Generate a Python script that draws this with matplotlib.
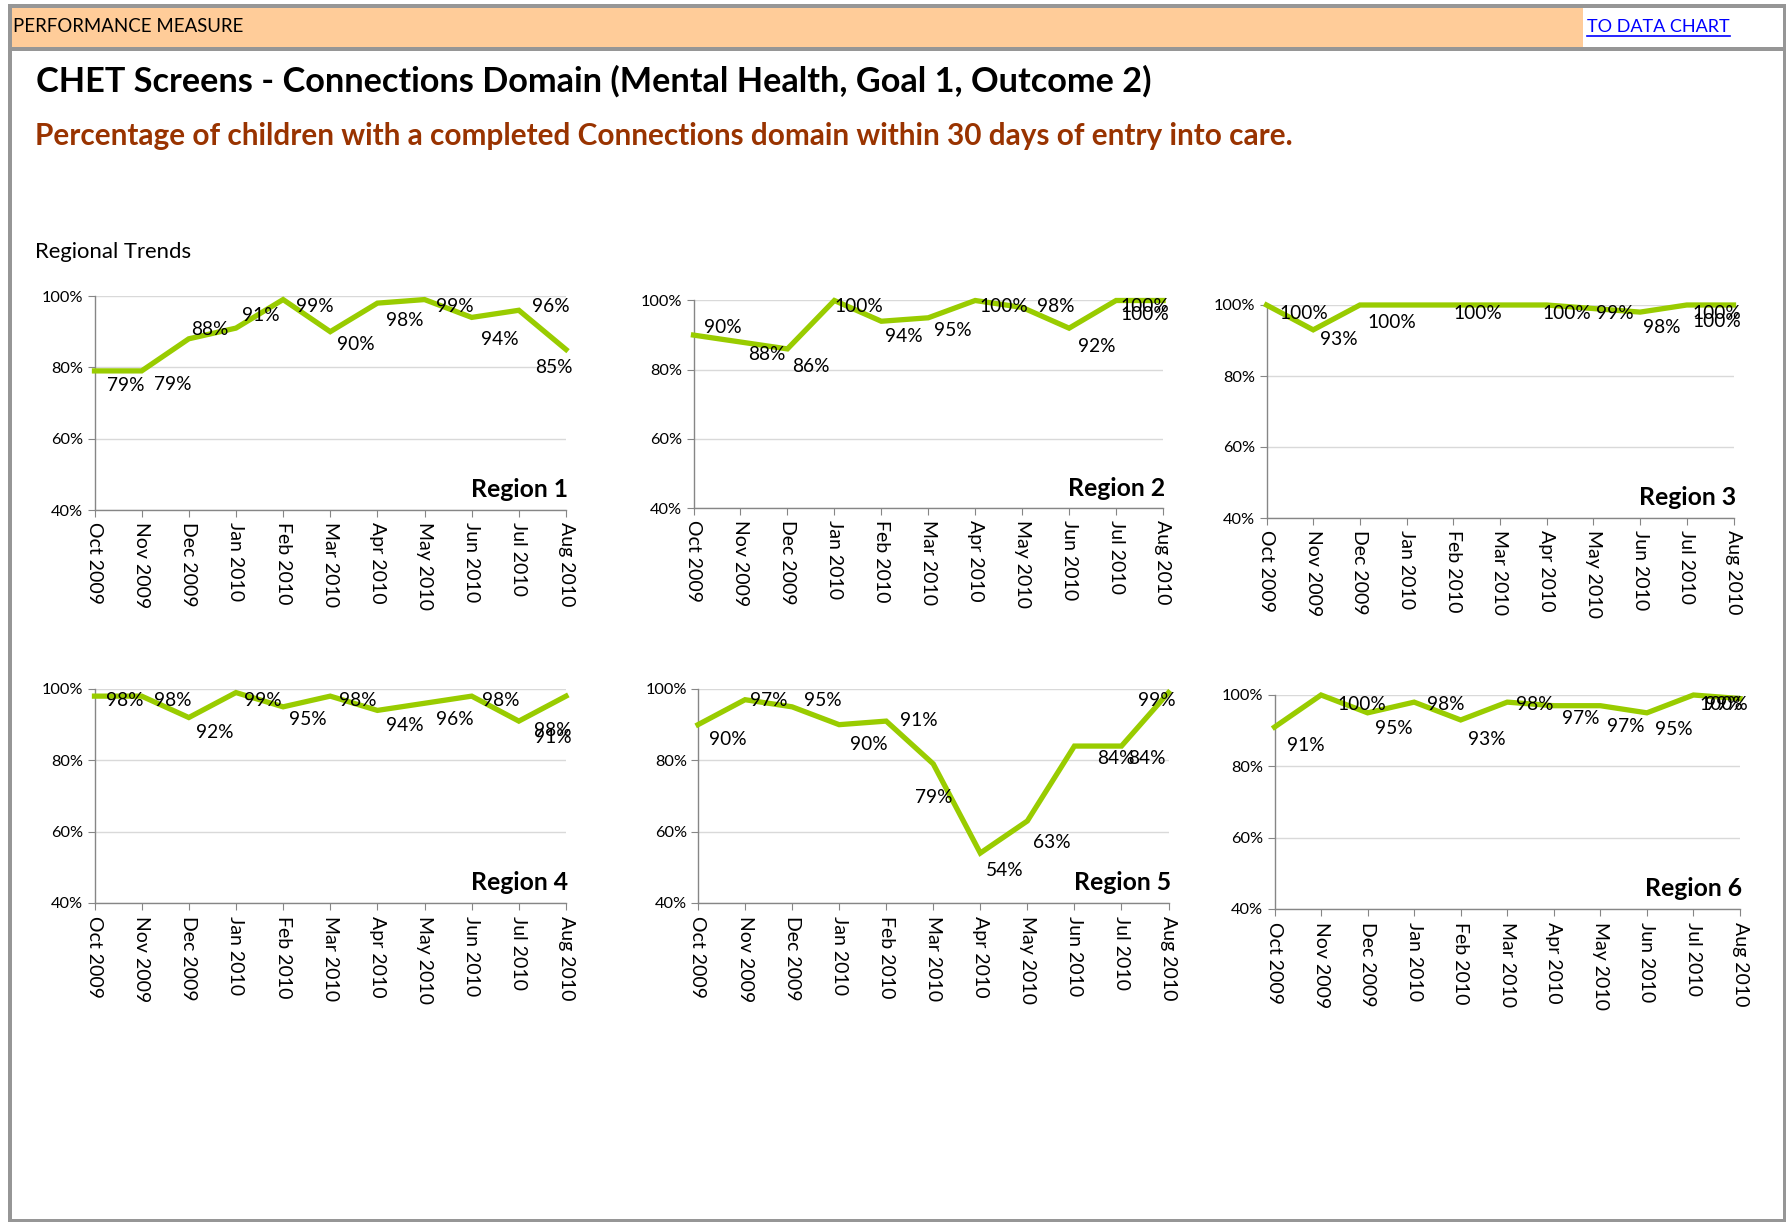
import matplotlib
matplotlib.use("Agg")
import matplotlib.pyplot as plt
from matplotlib.patches import Rectangle
from matplotlib.lines import Line2D

plt.rcParams['font.family'] = ['Lato', 'DejaVu Sans']

# ---------------- data ----------------
months = ["Oct 2009", "Nov 2009", "Dec 2009", "Jan 2010", "Feb 2010", "Mar 2010",
          "Apr 2010", "May 2010", "Jun 2010", "Jul 2010", "Aug 2010"]
region_names = ["Region 1", "Region 2", "Region 3", "Region 4", "Region 5", "Region 6"]

region1 = [79, 79, 88, 91, 99, 90, 98, 99, 94, 96, 85]
region2 = [90, 88, 86, 100, 94, 95, 100, 98, 92, 100, 100]
region3 = [100, 93, 100, 100, 100, 100, 100, 99, 98, 100, 100]
region4 = [98, 98, 92, 99, 95, 98, 94, 96, 98, 91, 98]
region5 = [90, 97, 95, 90, 91, 79, 54, 63, 84, 84, 99]
region6 = [91, 100, 95, 98, 93, 98, 97, 97, 95, 100, 99]
series = [region1, region2, region3, region4, region5, region6]

y_ticks = [40, 60, 80, 100]

# ---------------- label placement (style, offsets from each point) ----------------
label_dx = [
    [0.67, 0.65, 0.45, 0.52, 0.67, 0.54, 0.58, 0.64, 0.59, 0.67, -0.25],
    [0.63, 0.56, 0.51, 0.52, 0.49, 0.52, 0.61, 0.71, 0.58, 0.62, -0.39],
    [0.81, 0.55, 0.69, None, 0.52, None, 0.44, 0.46, 0.46, 0.64, -0.36],
    [0.64, 0.66, 0.54, 0.56, 0.53, 0.59, 0.58, 0.64, 0.62, 0.71, -0.29],
    [0.63, 0.50, 0.65, 0.62, 0.69, 0.00, 0.51, 0.53, 0.88, 0.53, -0.25],
    [0.68, 0.88, 0.56, 0.67, 0.56, 0.59, 0.57, 0.54, 0.58, 0.65, -0.35],
]
label_dy = [
    [-4.2, -3.7, 2.7, 3.6, -2.0, -3.5, -5.0, -2.0, -6.1, 1.0, -5.0],
    [2.1, -3.6, -5.2, -1.8, -4.3, -3.6, -1.8, 0.2, -5.2, -1.6, -4.0],
    [-2.5, -2.8, -4.8, 0, -2.5, 0, -2.5, -1.5, -4.2, -2.5, -4.6],
    [-1.1, -1.1, -4.1, -2.1, -3.6, -1.1, -4.3, -4.6, -1.1, -4.5, -9.5],
    [-4.2, -0.1, 1.9, -5.7, 0.1, -9.3, -4.8, -6.1, -3.6, -3.6, -2.1],
    [-5.1, -2.6, -4.4, -0.6, -5.6, -0.6, -3.6, -5.7, -4.8, -2.6, -1.6],
]

# axes boxes in pixels: left, right, top, bottom
W, H = 1786, 1225
boxes = [
    (94.5, 566, 296, 510),
    (693.5, 1163, 300.5, 508),
    (1266.5, 1733.5, 305, 518),
    (94.5, 566, 689, 903),
    (698, 1168.5, 689, 903),
    (1274.5, 1740, 695, 909),
]

LINE_COLOR = "#99CC00"
GRID_COLOR = "#D9D9D9"
AXIS_COLOR = "#868686"
BORDER = "#969696"

fig = plt.figure(figsize=(W / 100, H / 100), dpi=100)
fig.patch.set_facecolor("white")

def px_rect(x0, y0, x1, y1, **kw):
    fig.patches.append(Rectangle((x0 / W, 1 - y1 / H), (x1 - x0) / W, (y1 - y0) / H,
                                 transform=fig.transFigure, figure=fig, **kw))

# header band and frame
px_rect(11, 7, 1583, 47, facecolor="#FFCC99", edgecolor="none")
px_rect(8, 4, 1786, 7.5, facecolor=BORDER, edgecolor="none")
px_rect(8, 47, 1786, 50.5, facecolor=BORDER, edgecolor="none")
px_rect(8, 4, 11.5, 1222, facecolor=BORDER, edgecolor="none")
px_rect(1782.5, 4, 1786, 1222, facecolor=BORDER, edgecolor="none")
px_rect(8, 1218.5, 1786, 1222, facecolor=BORDER, edgecolor="none")

fig.text(13 / W, 1 - 27 / H, "PERFORMANCE MEASURE", fontsize=13.4, va="center", ha="left", color="black")
fig.text(1587 / W, 1 - 27 / H, "TO DATA CHART", fontsize=13, va="center", ha="left", color="#0000FF")
fig.lines.append(Line2D([1587 / W, 1730 / W], [1 - 35.5 / H, 1 - 35.5 / H], transform=fig.transFigure,
                        color="#0000FF", lw=1.2))

fig.text(36 / W, 1 - 81 / H, "CHET Screens - Connections Domain (Mental Health, Goal 1, Outcome 2)",
         fontsize=24.7, fontweight="bold", va="center", ha="left", color="black")
fig.text(35 / W, 1 - 136 / H,
         "Percentage of children with a completed Connections domain within 30 days of entry into care.",
         fontsize=21.4, fontweight="bold", va="center", ha="left", color="#993300")
fig.text(35 / W, 1 - 252 / H, "Regional Trends", fontsize=15.9, va="center", ha="left", color="black")

x = list(range(len(months)))
for k, (vals, name, box) in enumerate(zip(series, region_names, boxes)):
    l, r, t, b = box
    ax = fig.add_axes([l / W, 1 - b / H, (r - l) / W, (b - t) / H])
    ax.set_facecolor("none")
    ax.plot(x, vals, color=LINE_COLOR, lw=3.8, solid_joinstyle="miter", clip_on=False, zorder=3)
    ax.set_xlim(0, len(months) - 1)
    ax.set_ylim(40, 100)
    ax.set_yticks(y_ticks)
    ax.set_yticklabels([f"{v}%" for v in y_ticks])
    ax.set_xticks(x)
    ax.set_xticklabels(months, rotation=270, ha="center", va="top")
    for s in ["top", "right"]:
        ax.spines[s].set_visible(False)
    for s in ["left", "bottom"]:
        ax.spines[s].set_color(AXIS_COLOR)
        ax.spines[s].set_linewidth(1.0)
    ax.yaxis.grid(True, color=GRID_COLOR, lw=1.0)
    ax.set_axisbelow(True)
    ax.tick_params(axis="y", length=5, color=AXIS_COLOR, labelsize=11.8, pad=3)
    ax.tick_params(axis="x", length=5, color=AXIS_COLOR, labelsize=14, pad=4)
    for i, v in enumerate(vals):
        dx = label_dx[k][i]
        if dx is None:
            continue
        ax.text(i + dx, v + label_dy[k][i], f"{v}%", ha="center", va="center",
                fontsize=13.8, color="black", clip_on=False, zorder=4)
    ax.text(1.005, 0.04, name, transform=ax.transAxes, ha="right", va="bottom",
            fontsize=17.8, fontweight="bold", color="black")

fig.savefig("out.png", dpi=100, facecolor="white")
